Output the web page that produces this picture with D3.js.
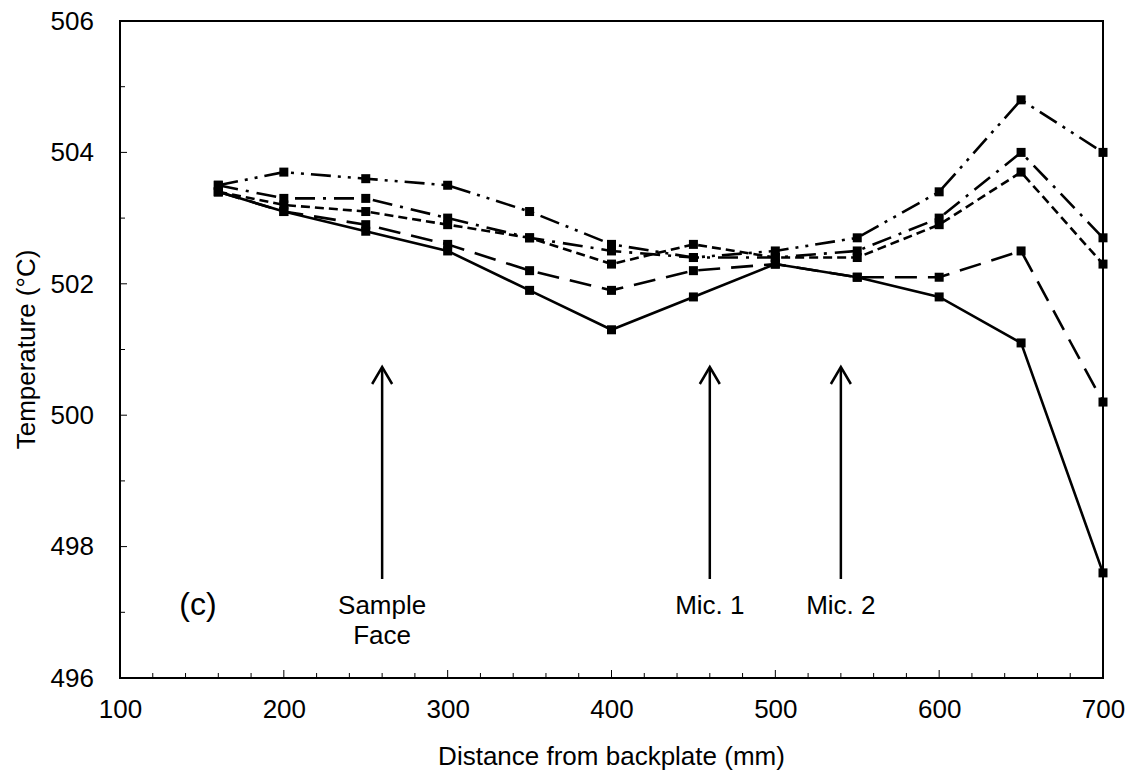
<!DOCTYPE html>
<html>
<head>
<meta charset="utf-8">
<script src="https://cdn.jsdelivr.net/npm/d3@7"></script>
<style>
  html, body { margin: 0; padding: 0; background: #fff; }
  svg { display: block; font-family: "Liberation Sans", Arial, sans-serif; }
</style>
</head>
<body>
<svg id="chart" width="1132" height="783"></svg>
<script>
// ---- data ----
const distances = [160, 200, 250, 300, 350, 400, 450, 500, 550, 600, 650, 700];
const seriesSolid     = [503.4, 503.1, 502.8, 502.5, 501.9, 501.3, 501.8, 502.3, 502.1, 501.8, 501.1, 497.6];
const seriesLongDash  = [503.4, 503.1, 502.9, 502.6, 502.2, 501.9, 502.2, 502.3, 502.1, 502.1, 502.5, 500.2];
const seriesShortDash = [503.4, 503.2, 503.1, 502.9, 502.7, 502.3, 502.6, 502.4, 502.4, 502.9, 503.7, 502.3];
const seriesDashDot   = [503.5, 503.3, 503.3, 503.0, 502.7, 502.5, 502.4, 502.4, 502.5, 503.0, 504.0, 502.7];
const seriesDashDot2  = [503.5, 503.7, 503.6, 503.5, 503.1, 502.6, 502.4, 502.5, 502.7, 503.4, 504.8, 504.0];
const xTicks = [100, 200, 300, 400, 500, 600, 700];
const yTicks = [496, 498, 500, 502, 504, 506];
const annotations = [
  { x: 260, lines: ["Sample", "Face"] },
  { x: 460, lines: ["Mic. 1"] },
  { x: 540, lines: ["Mic. 2"] }
];
const panelLabel = "(c)";

// ---- layout ----
const svg = d3.select("#chart");
const pLeft = 120, pRight = 1103, pTop = 21, pBottom = 678;
const x = d3.scaleLinear().domain([100, 700]).range([pLeft, pRight]);
const y = d3.scaleLinear().domain([496, 506]).range([pBottom, pTop]);

const series = [
  { values: seriesSolid,     dash: null },
  { values: seriesLongDash,  dash: "22,11" },
  { values: seriesShortDash, dash: "9,5" },
  { values: seriesDashDot,   dash: "20,8,3,8" },
  { values: seriesDashDot2,  dash: "20,7,3,7,3,7" }
];

// frame
svg.append("rect").attr("x", pLeft).attr("y", pTop)
  .attr("width", pRight - pLeft).attr("height", pBottom - pTop)
  .attr("fill", "none").attr("stroke", "#000").attr("stroke-width", 2);

// x axis minor + major ticks (inward)
const xMinor = d3.range(100, 701, 20);
svg.append("g").selectAll("line").data(xMinor).join("line")
  .attr("x1", d => x(d)).attr("x2", d => x(d))
  .attr("y1", pBottom).attr("y2", d => pBottom - (d % 100 === 0 ? 8 : 5))
  .attr("stroke", "#000").attr("stroke-width", 1);

const xAxis = d3.axisBottom(x).tickValues(xTicks).tickSize(0).tickPadding(22);
const gx = svg.append("g").attr("transform", `translate(0,${pBottom})`).call(xAxis);
gx.select(".domain").remove();
gx.selectAll("text").attr("font-size", 26).attr("font-family", "Liberation Sans, Arial, sans-serif").attr("fill", "#000");

// y ticks every 1 (inward)
const yMinor = d3.range(496, 506.01, 1);
svg.append("g").selectAll("line").data(yMinor).join("line")
  .attr("x1", pLeft).attr("x2", d => pLeft + (d % 2 === 0 ? 7 : 5))
  .attr("y1", d => y(d)).attr("y2", d => y(d))
  .attr("stroke", "#000").attr("stroke-width", 1);

const yAxis = d3.axisLeft(y).tickValues(yTicks).tickSize(0).tickPadding(26);
const gy = svg.append("g").attr("transform", `translate(${pLeft},0)`).call(yAxis);
gy.select(".domain").remove();
gy.selectAll("text").attr("font-size", 26).attr("font-family", "Liberation Sans, Arial, sans-serif").attr("fill", "#000");

// axis titles
svg.append("text").attr("x", (pLeft + pRight) / 2).attr("y", 765)
  .attr("text-anchor", "middle").attr("font-size", 26).text("Distance from backplate (mm)");
svg.append("text").attr("transform", `translate(35,${(pTop + pBottom) / 2}) rotate(-90)`)
  .attr("text-anchor", "middle").attr("font-size", 26).text("Temperature (°C)");

// lines
const line = d3.line().x((d, i) => x(distances[i])).y(d => y(d));
series.forEach(s => {
  svg.append("path").datum(s.values)
    .attr("d", line)
    .attr("fill", "none").attr("stroke", "#000").attr("stroke-width", 2.6)
    .attr("stroke-dasharray", s.dash);
  svg.append("g").selectAll("rect").data(s.values).join("rect")
    .attr("x", (d, i) => x(distances[i]) - 4.5)
    .attr("y", d => y(d) - 4.5)
    .attr("width", 9).attr("height", 9).attr("fill", "#000");
});

// annotation arrows
const arrowTop = 367, arrowBottom = 579;
annotations.forEach(a => {
  const ax = x(a.x);
  svg.append("line").attr("x1", ax).attr("x2", ax).attr("y1", arrowTop + 1).attr("y2", arrowBottom)
    .attr("stroke", "#000").attr("stroke-width", 2.5);
  svg.append("path")
    .attr("d", `M${ax - 10},${arrowTop + 17} L${ax},${arrowTop} L${ax + 10},${arrowTop + 17}`)
    .attr("fill", "none").attr("stroke", "#000").attr("stroke-width", 2.5);
  a.lines.forEach((t, i) => {
    svg.append("text").attr("x", ax).attr("y", 614 + i * 30)
      .attr("text-anchor", "middle").attr("font-size", 26).text(t);
  });
});

svg.append("text").attr("x", 198).attr("y", 615)
  .attr("text-anchor", "middle").attr("font-size", 32).text(panelLabel);
</script>
</body>
</html>
